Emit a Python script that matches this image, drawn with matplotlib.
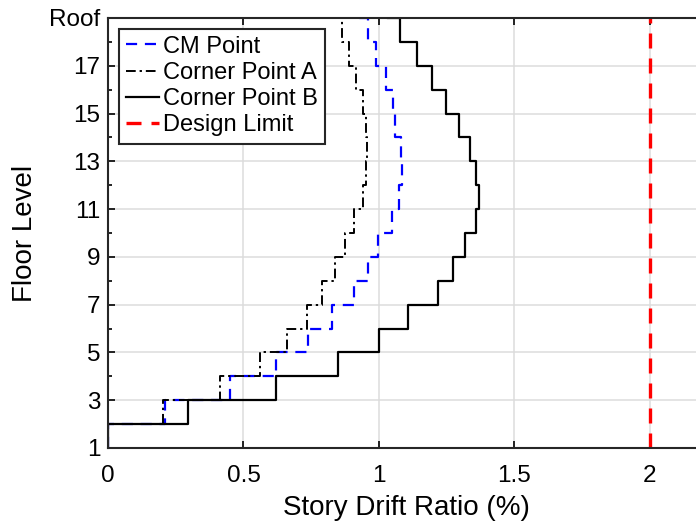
import numpy as np
import matplotlib
matplotlib.use("Agg")
import matplotlib.pyplot as plt

plt.rcParams['font.family'] = ['Liberation Sans', 'DejaVu Sans']

# floor levels 1..19 (19 = Roof)
floors = np.arange(1, 20)
# story drift ratio (%) per story, last value at roof level
cm_point = [0, 0.212, 0.451, 0.62, 0.74, 0.828, 0.907, 0.961, 0.998, 1.049,
            1.076, 1.086, 1.08, 1.061, 1.051, 1.027, 0.99, 0.96, 0.922]
corner_a = [0, 0.203, 0.412, 0.561, 0.66, 0.733, 0.79, 0.839, 0.873, 0.909,
            0.941, 0.951, 0.957, 0.951, 0.941, 0.917, 0.89, 0.862, 0.829]
corner_b = [0, 0.294, 0.62, 0.85, 1.0, 1.108, 1.218, 1.275, 1.319, 1.358,
            1.368, 1.358, 1.336, 1.297, 1.248, 1.196, 1.142, 1.079, 1.033]
design_limit = 2.0

ytick_vals = [1, 3, 5, 7, 9, 11, 13, 15, 17, 19]
ytick_labels = ['1', '3', '5', '7', '9', '11', '13', '15', '17', 'Roof']
xtick_vals = [0, 0.5, 1, 1.5, 2]
xtick_labels = ['0', '0.5', '1', '1.5', '2']


def stairs_xy(vals, lev):
    # vertical steps: value held over each story, jump at floor level
    v = np.asarray(vals, dtype=float)
    return np.repeat(v, 2)[:-1], np.repeat(lev, 2)[1:]


fig = plt.figure(figsize=(6.96, 5.27), dpi=100)
ax = fig.add_axes([108/696, 1 - 448/527, (704 - 108)/696, (448 - 18)/527])

x, y = stairs_xy(cm_point, floors)
ax.plot(x, y, color='#0000ff', lw=1.6, dashes=(5, 3.5), label='CM Point')
x, y = stairs_xy(corner_a, floors)
ax.plot(x, y, color='black', lw=1.4, dashes=(5, 2, 1.2, 2), label='Corner Point A')
x, y = stairs_xy(corner_b, floors)
ax.plot(x, y, color='black', lw=1.6, label='Corner Point B')
ax.axvline(design_limit, color='#ff0000', lw=2.4, dashes=(4.5, 3), label='Design Limit')

ax.set_xlim(0, 2.2)
ax.set_ylim(1, 19)
ax.set_xticks(xtick_vals)
ax.set_xticklabels(xtick_labels)
ax.set_yticks(ytick_vals)
ax.set_yticklabels(ytick_labels)
ax.set_yticks(floors, minor=True)
ax.tick_params(which='both', direction='in', top=True, right=True, labelsize=17.5, width=1.2)
ax.tick_params(which='major', length=5)
ax.tick_params(which='minor', length=3)
ax.tick_params(axis='x', pad=12)
ax.tick_params(axis='y', pad=5.5)
ax.grid(True, which='major', color='#dcdcdc', lw=1.1)
ax.set_axisbelow(True)
for s in ax.spines.values():
    s.set_linewidth(1.5)
    s.set_color('#262626')

ax.set_xlabel('Story Drift Ratio (%)', fontsize=20, labelpad=6)
ax.set_ylabel('Floor Level', fontsize=20, labelpad=8)

leg = ax.legend(loc='upper left', fontsize=17, handlelength=1.4, handletextpad=0.2,
                labelspacing=0.18, borderaxespad=0.45, borderpad=0.3,
                fancybox=False, framealpha=1, edgecolor='#262626')
leg.get_frame().set_linewidth(1.5)

fig.savefig('out.png', dpi=100)
